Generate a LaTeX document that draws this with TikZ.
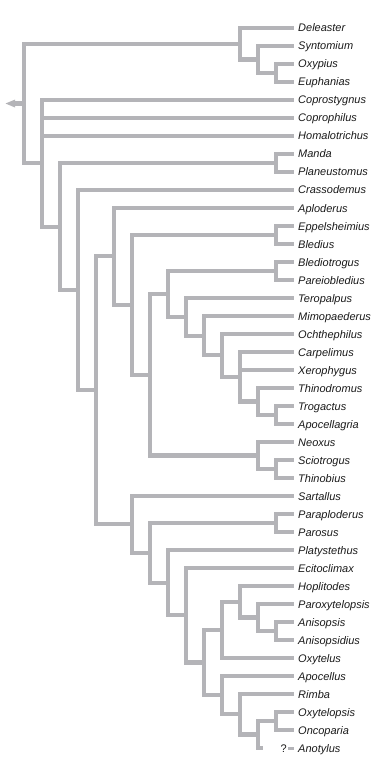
\documentclass[tikz,border=0pt]{standalone}
\usepackage{fontspec}
\setmainfont{Liberation Sans}
\usetikzlibrary{arrows.meta}
\definecolor{Branch}{HTML}{B4B4B8}
\definecolor{Ink}{HTML}{1A1A1A}
\tikzset{
  branch/.style={line width=4.1pt,Branch},
  taxon/.style={anchor=west,inner xsep=4pt,inner ysep=0pt,text height=8pt,text depth=0pt,
    font=\itshape\fontsize{11}{13}\selectfont,text=Ink}
}

\begin{document}
\begin{tikzpicture}[x=1pt,y=-1pt]
    \fill[white] (0,0) rectangle (375,759);
    \useasboundingbox (0,0) rectangle (375,759);
    \foreach \n/\name in {1/Deleaster,2/Syntomium,3/Oxypius,4/Euphanias,5/Coprostygnus,
      6/Coprophilus,7/Homalotrichus,8/Manda,9/Planeustomus,10/Crassodemus,11/Aploderus,
      12/Eppelsheimius,13/Bledius,14/Blediotrogus,15/Pareiobledius,16/Teropalpus,
      17/Mimopaederus,18/Ochthephilus,19/Carpelimus,20/Xerophygus,21/Thinodromus,
      22/Trogactus,23/Apocellagria,24/Neoxus,25/Sciotrogus,26/Thinobius,27/Sartallus,
      28/Paraploderus,29/Parosus,30/Platystethus,31/Ecitoclimax,32/Hoplitodes,
      33/Paroxytelopsis,34/Anisopsis,35/Anisopsidius,36/Oxytelus,37/Apocellus,38/Rimba,
      39/Oxytelopsis,40/Oncoparia,41/Anotylus}{
      \node[taxon] (l\n) at (294,{10+18*\n}) {\name};
    }
    \foreach \name/\h/\k in {oxy/1/3.5,syn/2/2.75,del/3/1.875,man/1/8.5,eppe/1/12.5,
      bltr/1/14.5,trog/1/22.5,thd/2/21.75,carp/3/20.375,och/4/19.1875,mim/5/18.09375,
      ter/6/17.046875,blt/7/15.7734375,scio/1/25.5,neo/2/24.75,bl/8/20.26171875,
      ep/9/16.380859,apl/10/13.69043,par/1/28.5,anis/1/34.5,parox/2/33.75,hop/3/32.875,
      oxyt/4/34.4375,onc/1/39.5,ano/2/40.25,rim/3/39.125,apo/4/38.0625,oxl/5/36.25,
      eci/6/33.625,pla/7/31.8125,paro/8/30.15625,sar/9/28.578125,mid/11/21.134277,
      cra/12/15.567139,plan/13/12.033569,cop/14/8.516785,root/15/5.195892}{
      \coordinate (\name) at ({294-18*\h},{10+18*\k});
    }
    \foreach \p/\c in {root/del,root/cop,del/syn,syn/oxy,cop/plan,plan/man,plan/cra,
      cra/mid,mid/apl,mid/sar,apl/ep,ep/eppe,ep/bl,bl/blt,bl/neo,blt/bltr,blt/ter,
      ter/mim,mim/och,och/carp,carp/thd,thd/trog,neo/scio,sar/paro,paro/par,paro/pla,
      pla/eci,eci/oxl,oxl/oxyt,oxl/apo,oxyt/hop,hop/parox,parox/anis,apo/rim,rim/ano,
      ano/onc}{
      \draw[branch] (\p) |- (\c);
    }
    \foreach \p/\n in {del/1,syn/2,oxy/3,oxy/4,cop/5,cop/6,cop/7,man/8,man/9,cra/10,
      apl/11,eppe/12,eppe/13,bltr/14,bltr/15,ter/16,mim/17,och/18,carp/19,carp/20,
      thd/21,trog/22,trog/23,neo/24,scio/25,scio/26,sar/27,par/28,par/29,pla/30,eci/31,
      hop/32,parox/33,anis/34,anis/35,oxyt/36,apo/37,rim/38,onc/39,onc/40}{
      \draw[branch] (\p) |- (l\n.west);
    }
    \coordinate (stub) at (263,748);
    \draw[branch] (ano) |- (stub);
    \node[anchor=east,inner xsep=1pt,font=\fontsize{11}{13}\selectfont,text=Ink] (qm)
      at (288,{748+0.5}) {?};
    \draw[line width=3pt,Branch] (qm.east|-l41.west) -- (l41.west);
    \coordinate (tip) at (5,{10+18*5.195892});
    \draw[branch,-{Triangle[length=10pt,width=7pt]}] (root) -- (tip);
  \end{tikzpicture}
\end{document}
